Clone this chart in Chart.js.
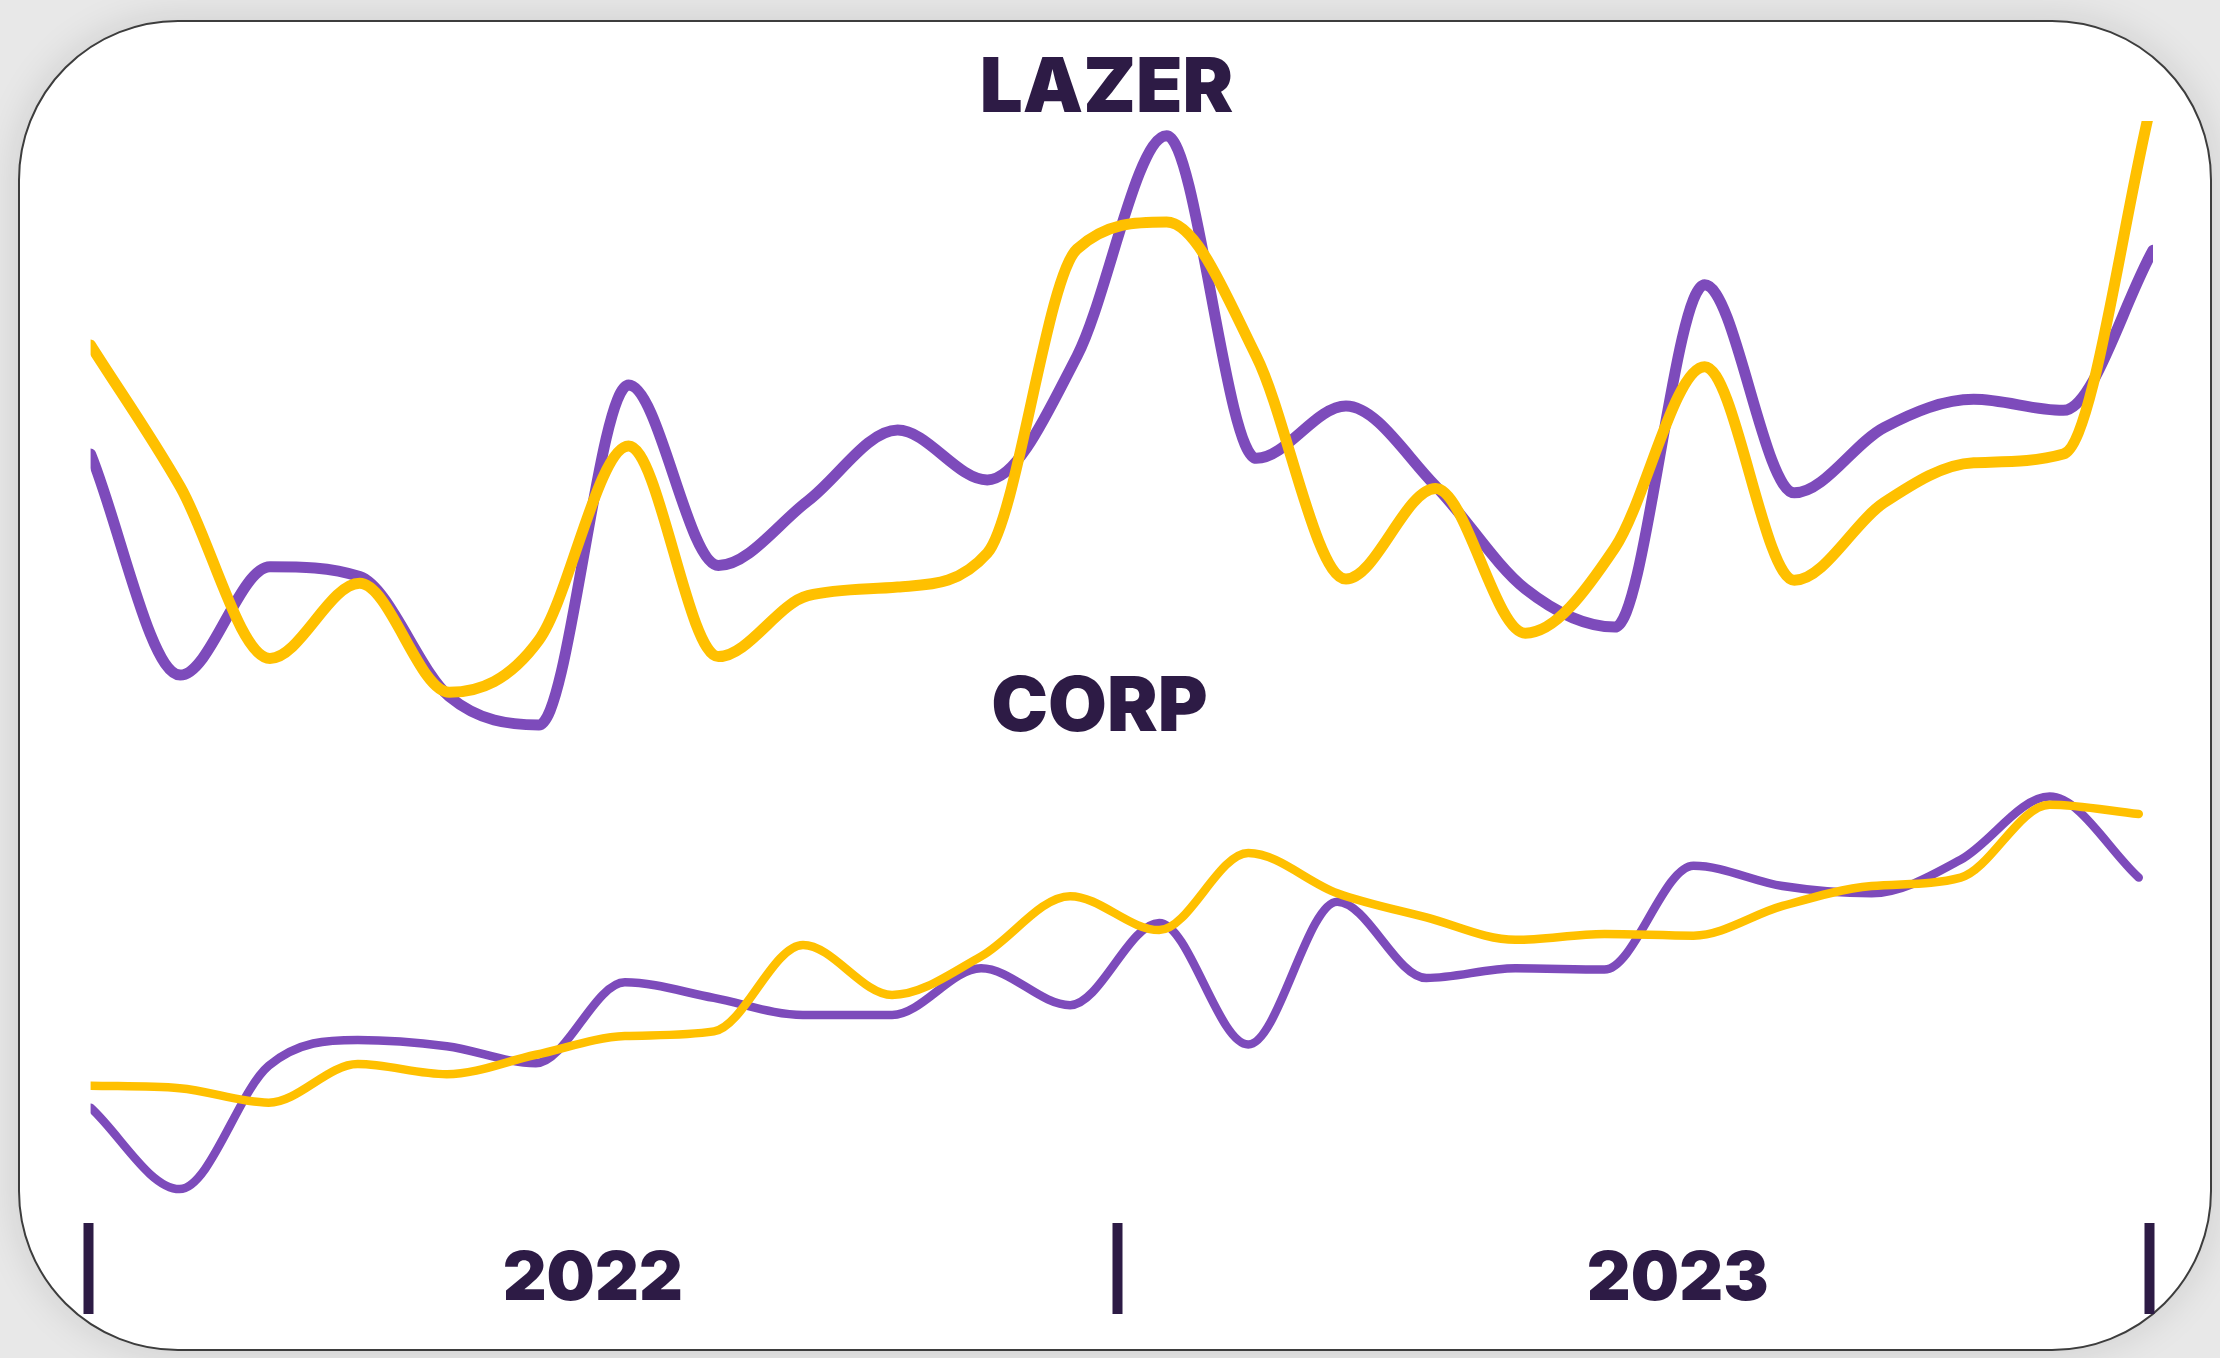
<!DOCTYPE html>
<html>
<head>
<meta charset="utf-8">
<script src="https://cdn.jsdelivr.net/npm/chart.js@4.4.0/dist/chart.umd.min.js"></script>
<style>
  html, body { margin: 0; padding: 0; }
  body { width: 2220px; height: 1358px; background: #e8e8e8; position: relative; overflow: hidden; }
  .card {
    position: absolute; left: 18px; top: 20px; width: 2190px; height: 1327px;
    background: #fff; border: 2px solid #3d3d3d; border-radius: 160px;
    box-shadow: 0 0 40px rgba(0, 0, 0, 0.12);
  }
  #myChart { position: absolute; left: 0; top: 0; }
</style>
</head>
<body>
<div class="card"></div>
<canvas id="myChart" width="2220" height="1358"></canvas>
<script>
// monthly points, Jan 2022 .. Dec 2023
var months = ['2022-01','2022-02','2022-03','2022-04','2022-05','2022-06','2022-07','2022-08','2022-09','2022-10','2022-11','2022-12',
              '2023-01','2023-02','2023-03','2023-04','2023-05','2023-06','2023-07','2023-08','2023-09','2023-10','2023-11','2023-12'];

// top panel (LAZER)
var lazerPurple = [45.9, 10.0, 27.6, 26.0, 6.5, 1.9, 57.1, 27.8, 38.3, 49.8, 41.7, 61.8, 97.6, 45.2, 53.7, 40.7, 24.0, 17.8, 73.4, 39.6, 50.2, 54.8, 53.0, 79.0];
var lazerGold   = [63.6, 40.6, 12.7, 24.9, 7.2, 15.7, 47.2, 13.0, 22.9, 24.3, 29.8, 79.2, 83.6, 61.8, 25.6, 40.3, 16.8, 30.7, 60.1, 25.4, 38.0, 44.5, 45.9, 104.0];

// bottom panel (CORP)
var corpPurple = [22.2, 3.0, 32.1, 38.2, 36.7, 32.7, 51.8, 48.1, 44.1, 44.1, 55.1, 46.4, 65.8, 37.1, 70.8, 52.8, 55.1, 54.8, 79.3, 74.5, 72.8, 80.7, 95.6, 76.5];
var corpGold   = [27.4, 26.8, 23.4, 32.5, 30.1, 34.7, 39.1, 40.2, 60.6, 48.8, 57.9, 72.1, 64.1, 82.3, 72.8, 67.1, 61.8, 63.2, 62.8, 69.8, 74.5, 76.5, 93.7, 91.5];

var panelTitles = ['LAZER', 'CORP'];

// bottom axis: year dividers and year names
var axisTicks = [-0.02, 5.6, 11.45, 17.7, 22.96];
var axisTickLabels = ['', '2022', '', '2023', ''];

var ink = '#2d1b45';
var purple = '#7d4bbb';
var gold = '#ffc000';

function points(values) {
  return values.map(function (v, i) { return { x: i, y: v }; });
}

var panelTitlePlugin = {
  id: 'panelTitles',
  afterDraw: function (chart) {
    var c = chart.ctx;
    var xs = chart.scales.x;
    c.save();
    c.font = '900 76px Inter';
    c.fillStyle = ink;
    c.textAlign = 'center';
    c.textBaseline = 'alphabetic';
    c.fillText(panelTitles[0], xs.getPixelForValue(11.33), 112);
    c.fillText(panelTitles[1], xs.getPixelForValue(11.25), 731);
    c.restore();
  }
};

var ctx = document.getElementById('myChart').getContext('2d');
var myChart = new Chart(ctx, {
  type: 'line',
  data: {
    datasets: [
      { label: 'LAZER purple', data: points(lazerPurple), borderColor: purple, borderWidth: 11, xAxisID: 'x', yAxisID: 'y', order: 1 },
      { label: 'LAZER gold', data: points(lazerGold), borderColor: gold, borderWidth: 11, xAxisID: 'x', yAxisID: 'y', order: 0 },
      { label: 'CORP purple', data: points(corpPurple), borderColor: purple, borderWidth: 8.5, xAxisID: 'x2', yAxisID: 'y2', order: 1 },
      { label: 'CORP gold', data: points(corpGold), borderColor: gold, borderWidth: 8.5, xAxisID: 'x2', yAxisID: 'y2', order: 0 }
    ]
  },
  options: {
    responsive: false,
    animation: false,
    layout: { padding: { left: 90.6, right: 67, top: 121, bottom: 30.4 } },
    elements: {
      point: { radius: 0, hoverRadius: 0 },
      line: { cubicInterpolationMode: 'monotone', borderCapStyle: 'round', borderJoinStyle: 'round', fill: false }
    },
    plugins: {
      legend: { display: false },
      tooltip: { enabled: false },
      title: { display: false }
    },
    scales: {
      x: {
        type: 'linear', min: 0, max: 23, position: 'bottom',
        border: { display: false },
        grid: {
          display: true, drawOnChartArea: false, drawTicks: true,
          tickLength: 91, tickWidth: 10,
          tickColor: function (c) { return axisTickLabels[c.index] === '' ? ink : 'rgba(0,0,0,0)'; }
        },
        afterBuildTicks: function (axis) {
          axis.ticks = axisTicks.map(function (v) { return { value: v }; });
        },
        ticks: {
          autoSkip: false, maxRotation: 0, minRotation: 0, padding: -74.8, color: ink,
          font: { family: 'Inter', size: 68, weight: 900 },
          // second empty line keeps the label box tall enough to hold the text
          callback: function (v, i) { return [axisTickLabels[i], '']; }
        }
      },
      x2: { type: 'linear', display: false, min: 0, max: 23.16 },
      y: { display: false, min: -79, max: 100 },
      y2: { display: false, min: -5, max: 255 }
    }
  },
  plugins: [panelTitlePlugin]
});
</script>
</body>
</html>
